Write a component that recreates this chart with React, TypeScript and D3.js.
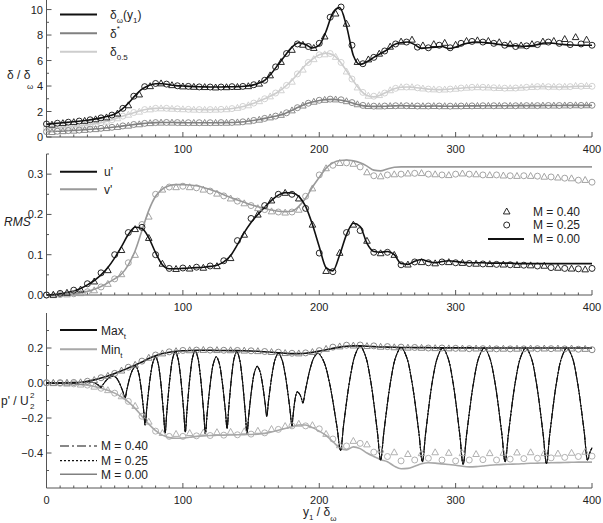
import React from "react";
import * as d3 from "d3";

const W = 603;
const H = 523;
const FONT = "'Liberation Sans', Arial, sans-serif";

// ---------- panel 1: thickness measures (lines every 5 units of y1/δω) ----------
const xLine5 = d3.range(0, 401, 5);
const deltaOmega = [
  1.0, 1.05, 1.1, 1.15, 1.2, 1.25, 1.32, 1.4, 1.5, 1.62, 1.8, 2.15, 2.65, 3.25, 3.75, 4.05, 4.18, 4.18, 4.1, 4.03,
  4.0, 3.97, 3.95, 3.93, 3.92, 3.92, 3.93, 3.94, 3.95, 3.98, 4.05, 4.2, 4.45, 5.0, 5.7, 6.4, 7.05, 7.4, 7.25, 6.98,
  7.2, 8.3, 9.75, 10.15, 8.7, 6.4, 5.7, 5.9, 6.25, 6.55, 6.85, 7.25, 7.4, 7.45, 7.25, 6.95, 7.0, 7.05, 7.1, 6.95,
  7.05, 7.25, 7.4, 7.45, 7.42, 7.38, 7.3, 7.22, 7.18, 7.15, 7.12, 7.15, 7.25, 7.38, 7.38, 7.3, 7.25, 7.22, 7.2, 7.2,
  7.2,
];
const deltaStar = [
  0.42, 0.44, 0.46, 0.49, 0.52, 0.55, 0.59, 0.63, 0.67, 0.72, 0.78, 0.85, 0.92, 0.99, 1.05, 1.1, 1.13, 1.14, 1.14, 1.13,
  1.12, 1.12, 1.12, 1.12, 1.12, 1.12, 1.13, 1.14, 1.16, 1.2, 1.27, 1.36, 1.46, 1.57, 1.68, 1.85, 2.1, 2.35, 2.58, 2.74,
  2.86, 2.93, 2.95, 2.9, 2.8, 2.65, 2.5, 2.42, 2.4, 2.4, 2.42, 2.44, 2.45, 2.44, 2.42, 2.41, 2.42, 2.43, 2.42, 2.41,
  2.42, 2.43, 2.44, 2.44, 2.45, 2.45, 2.45, 2.45, 2.45, 2.46, 2.46, 2.46, 2.46, 2.47, 2.47, 2.47, 2.48, 2.48, 2.48, 2.48,
  2.48,
];
const deltaHalf = [
  0.68, 0.7, 0.73, 0.77, 0.82, 0.88, 0.95, 1.03, 1.12, 1.25, 1.42, 1.6, 1.78, 1.95, 2.1, 2.2, 2.25, 2.26, 2.24, 2.21,
  2.19, 2.17, 2.16, 2.15, 2.15, 2.16, 2.18, 2.22, 2.3, 2.42, 2.58, 2.78, 3.0, 3.25, 3.55, 3.95, 4.45, 5.05, 5.65, 6.1,
  6.45, 6.58, 6.45, 5.95, 5.2, 4.4, 3.7, 3.25, 3.15, 3.3, 3.55, 3.78, 3.9, 3.92, 3.88, 3.82, 3.76, 3.72, 3.72, 3.75,
  3.8, 3.85, 3.88, 3.9, 3.9, 3.88, 3.85, 3.82, 3.82, 3.85, 3.88, 3.92, 3.95, 3.95, 3.93, 3.92, 3.93, 3.95, 3.97, 3.98,
  3.98,
];

// markers: circles (M = 0.25) at 0, 8, ... 400; triangles (M = 0.40) at 4, 12, ... 396
const xCirc8 = d3.range(0, 401, 8);
const xTri8 = d3.range(4, 400, 8);
const deltaOmegaCirc = [
  1.02, 1.08, 1.16, 1.25, 1.35, 1.5, 1.72, 2.25, 3.2, 3.95, 4.2, 4.15, 4.02, 3.97, 3.93, 3.92, 3.92, 3.95, 3.97, 4.1,
  4.45, 5.5, 6.55, 7.3, 7.1, 7.35, 9.4, 10.2, 7.2, 5.75, 6.25, 6.75, 7.3, 7.45, 7.05, 7.0, 7.2, 7.0, 7.35, 7.5,
  7.45, 7.35, 7.2, 7.1, 7.15, 7.25, 7.45, 7.35, 7.25, 7.3, 7.2,
];
const deltaOmegaTri = [
  0.98, 1.1, 1.18, 1.28, 1.4, 1.55, 1.85, 2.5, 3.35, 4.0, 4.22, 4.08, 3.98, 3.95, 3.93, 3.9, 3.92, 3.94, 4.0, 4.2,
  4.85, 5.9, 6.85, 7.25, 7.0, 7.9, 9.7, 8.9, 5.9, 6.1, 6.55, 7.1, 7.5, 7.65, 7.2, 7.3, 7.4, 7.25, 7.55, 7.6,
  7.55, 7.45, 7.3, 7.2, 7.3, 7.5, 7.55, 7.7, 7.85, 7.65,
];
const deltaStarCirc = [
  0.42, 0.45, 0.5, 0.54, 0.61, 0.68, 0.76, 0.87, 0.98, 1.07, 1.13, 1.14, 1.13, 1.12, 1.12, 1.12, 1.13, 1.14, 1.19, 1.3,
  1.46, 1.64, 1.9, 2.3, 2.65, 2.88, 2.97, 2.92, 2.7, 2.48, 2.42, 2.43, 2.45, 2.45, 2.43, 2.43, 2.43, 2.42, 2.43, 2.44,
  2.45, 2.45, 2.45, 2.45, 2.46, 2.46, 2.47, 2.47, 2.48, 2.48, 2.49,
];
const deltaStarTri = [
  0.4, 0.47, 0.51, 0.57, 0.63, 0.71, 0.8, 0.9, 1.01, 1.1, 1.14, 1.14, 1.12, 1.12, 1.12, 1.12, 1.13, 1.16, 1.24, 1.37,
  1.55, 1.75, 2.1, 2.48, 2.78, 2.93, 2.96, 2.82, 2.58, 2.44, 2.42, 2.44, 2.46, 2.44, 2.43, 2.44, 2.43, 2.43, 2.44, 2.45,
  2.46, 2.46, 2.46, 2.47, 2.47, 2.48, 2.48, 2.49, 2.5, 2.5,
];
const deltaHalfCirc = [
  0.68, 0.72, 0.78, 0.87, 0.98, 1.12, 1.35, 1.64, 1.92, 2.15, 2.25, 2.25, 2.21, 2.17, 2.15, 2.15, 2.17, 2.23, 2.4, 2.66,
  3.0, 3.45, 4.05, 4.95, 5.85, 6.45, 6.55, 5.85, 4.55, 3.5, 3.2, 3.45, 3.82, 3.92, 3.86, 3.76, 3.72, 3.76, 3.84, 3.9,
  3.9, 3.86, 3.83, 3.84, 3.9, 3.95, 3.94, 3.93, 3.95, 3.98, 3.98,
];
const deltaHalfTri = [
  0.66, 0.74, 0.8, 0.92, 1.03, 1.22, 1.48, 1.76, 2.0, 2.18, 2.26, 2.23, 2.19, 2.16, 2.15, 2.16, 2.19, 2.3, 2.5, 2.82,
  3.2, 3.68, 4.35, 5.3, 6.12, 6.5, 6.3, 5.15, 3.9, 3.25, 3.3, 3.68, 3.92, 3.92, 3.82, 3.75, 3.74, 3.8, 3.88, 3.92,
  3.9, 3.86, 3.84, 3.88, 3.94, 3.98, 3.96, 3.96, 4.02, 4.02,
];

// ---------- panel 2: RMS fluctuations ----------
const uRms = [
  0.0, 0.001, 0.003, 0.006, 0.01, 0.016, 0.025, 0.036, 0.05, 0.068, 0.092, 0.12, 0.15, 0.168, 0.165, 0.142, 0.105, 0.075, 0.065, 0.065,
  0.066, 0.067, 0.068, 0.069, 0.071, 0.074, 0.082, 0.098, 0.125, 0.155, 0.18, 0.2, 0.218, 0.235, 0.248, 0.254, 0.253, 0.245, 0.22, 0.175,
  0.12, 0.068, 0.06, 0.1, 0.15, 0.178, 0.17, 0.128, 0.108, 0.106, 0.108, 0.1, 0.078, 0.076, 0.084, 0.088, 0.083, 0.08, 0.083, 0.085,
  0.083, 0.081, 0.08, 0.08, 0.08, 0.079, 0.079, 0.079, 0.079, 0.078, 0.078, 0.078, 0.078, 0.078, 0.078, 0.078, 0.078, 0.078, 0.078, 0.078,
  0.078,
];
const vRms = [
  0.0, 0.0, 0.001, 0.002, 0.003, 0.005, 0.009, 0.014, 0.021, 0.03, 0.04, 0.052, 0.075, 0.11, 0.16, 0.21, 0.245, 0.263, 0.271, 0.274,
  0.274, 0.273, 0.271, 0.267, 0.262, 0.256, 0.249, 0.242, 0.236, 0.23, 0.224, 0.219, 0.215, 0.211, 0.208, 0.207, 0.208, 0.22, 0.24, 0.268,
  0.292, 0.315, 0.328, 0.334, 0.335, 0.333, 0.328, 0.32, 0.31, 0.308, 0.313, 0.317, 0.318, 0.318, 0.318, 0.318, 0.318, 0.318, 0.318, 0.318,
  0.318, 0.318, 0.318, 0.318, 0.318, 0.318, 0.318, 0.318, 0.318, 0.318, 0.318, 0.318, 0.318, 0.318, 0.318, 0.318, 0.318, 0.318, 0.318, 0.318,
  0.318,
];
const xCirc10 = d3.range(0, 401, 10);
const xTri10 = d3.range(5, 400, 10);
const uCirc = [
  0.0, 0.004, 0.012, 0.028, 0.055, 0.1, 0.155, 0.168, 0.1, 0.066, 0.067, 0.069, 0.072, 0.085, 0.135, 0.19, 0.222, 0.25, 0.25, 0.215,
  0.104, 0.058, 0.155, 0.16, 0.106, 0.106, 0.075, 0.082, 0.08, 0.082, 0.08, 0.078, 0.077, 0.076, 0.075, 0.074, 0.072, 0.068, 0.066, 0.065,
  0.066,
];
const uTri = [
  0.001, 0.006, 0.014, 0.034, 0.062, 0.112, 0.164, 0.142, 0.078, 0.065, 0.066, 0.068, 0.072, 0.092, 0.15, 0.2, 0.235, 0.254, 0.24, 0.175,
  0.06, 0.105, 0.175, 0.135, 0.104, 0.1, 0.076, 0.082, 0.079, 0.082, 0.08, 0.078, 0.077, 0.076, 0.075, 0.074, 0.073, 0.068, 0.066, 0.064,
];
const vCirc = [
  0.0, 0.001, 0.003, 0.008, 0.02, 0.04, 0.08, 0.175, 0.25, 0.268, 0.27, 0.266, 0.258, 0.246, 0.233, 0.222, 0.212, 0.206, 0.206, 0.245,
  0.298, 0.322, 0.328, 0.318, 0.296, 0.298, 0.3, 0.302, 0.3, 0.298, 0.3, 0.3, 0.298, 0.298, 0.296, 0.296, 0.295, 0.293, 0.29, 0.285,
  0.28,
];
const vTri = [
  0.0, 0.002, 0.005, 0.012, 0.028, 0.052, 0.1, 0.195, 0.262, 0.268, 0.268, 0.262, 0.252, 0.24, 0.228, 0.216, 0.208, 0.205, 0.212, 0.265,
  0.315, 0.328, 0.326, 0.305, 0.295, 0.3, 0.302, 0.303, 0.3, 0.298, 0.302, 0.3, 0.298, 0.297, 0.296, 0.296, 0.294, 0.292, 0.29, 0.286,
];

// ---------- panel 3: pressure fluctuation ----------
const pMax = [
  0.0, 0.0, 0.0, 0.001, 0.002, 0.004, 0.01, 0.018, 0.028, 0.04, 0.054, 0.07, 0.086, 0.102, 0.12, 0.14, 0.156, 0.168, 0.176, 0.181,
  0.184, 0.186, 0.187, 0.187, 0.187, 0.186, 0.186, 0.185, 0.185, 0.184, 0.183, 0.181, 0.179, 0.176, 0.173, 0.17, 0.168, 0.168, 0.17, 0.175,
  0.182, 0.19, 0.198, 0.205, 0.21, 0.212, 0.212, 0.21, 0.208, 0.206, 0.205, 0.204, 0.203, 0.203, 0.202, 0.202, 0.202, 0.201, 0.201, 0.201,
  0.201, 0.201, 0.201, 0.2, 0.2, 0.2, 0.2, 0.2, 0.2, 0.2, 0.2, 0.2, 0.2, 0.2, 0.2, 0.2, 0.2, 0.2, 0.2, 0.2,
  0.2,
];
const pMin = [
  0.0, 0.0, -0.001, -0.002, -0.004, -0.007, -0.012, -0.02, -0.03, -0.042, -0.058, -0.08, -0.108, -0.145, -0.19, -0.235, -0.272, -0.298, -0.312, -0.316,
  -0.314, -0.31, -0.305, -0.302, -0.3, -0.299, -0.298, -0.297, -0.296, -0.295, -0.294, -0.292, -0.288, -0.28, -0.27, -0.26, -0.25, -0.24, -0.24, -0.255,
  -0.275, -0.3, -0.335, -0.37, -0.382, -0.365, -0.375, -0.4, -0.42, -0.438, -0.45, -0.475, -0.49, -0.488, -0.476, -0.462, -0.456, -0.458, -0.462, -0.466,
  -0.47, -0.476, -0.479, -0.478, -0.474, -0.47, -0.467, -0.465, -0.464, -0.463, -0.461, -0.459, -0.458, -0.457, -0.456, -0.455, -0.454, -0.453, -0.452, -0.452,
  -0.452,
];
const maxCirc = [
  0.002, 0.002, 0.003, 0.01, 0.03, 0.055, 0.09, 0.125, 0.16, 0.178, 0.186, 0.188, 0.188, 0.187, 0.186, 0.184, 0.18, 0.176, 0.17, 0.172,
  0.185, 0.205, 0.216, 0.217, 0.212, 0.208, 0.205, 0.203, 0.2, 0.2, 0.198, 0.196, 0.196, 0.195, 0.195, 0.195, 0.196, 0.196, 0.195, 0.193,
  0.19,
];
const maxTri = [
  0.002, 0.003, 0.005, 0.018, 0.042, 0.072, 0.105, 0.145, 0.17, 0.183, 0.188, 0.19, 0.189, 0.188, 0.186, 0.183, 0.178, 0.172, 0.17, 0.178,
  0.196, 0.21, 0.215, 0.212, 0.208, 0.205, 0.203, 0.202, 0.2, 0.199, 0.198, 0.198, 0.197, 0.197, 0.197, 0.198, 0.198, 0.198, 0.198, 0.196,
];
const minCirc = [
  0.0, -0.002, -0.005, -0.012, -0.03, -0.058, -0.105, -0.19, -0.275, -0.305, -0.305, -0.302, -0.3, -0.298, -0.296, -0.292, -0.285, -0.265, -0.245, -0.245,
  -0.262, -0.32, -0.36, -0.345, -0.395, -0.42, -0.445, -0.44, -0.43, -0.44, -0.445, -0.44, -0.438, -0.44, -0.435, -0.432, -0.43, -0.428, -0.425, -0.42,
  -0.418,
];
const minTri = [
  0.0, -0.003, -0.008, -0.02, -0.04, -0.075, -0.13, -0.22, -0.285, -0.29, -0.285, -0.282, -0.28, -0.278, -0.275, -0.272, -0.262, -0.245, -0.232, -0.24,
  -0.29, -0.355, -0.33, -0.35, -0.38, -0.395, -0.405, -0.4, -0.395, -0.398, -0.4, -0.405, -0.4, -0.398, -0.396, -0.395, -0.4, -0.402, -0.398, -0.392,
];

// instantaneous p' along the layer: [y1/δω, p'/U2²]
const pInst: [number, number][] = [
  [0, 0], [10, 0], [20, 0.001], [28, 0.004], [33, 0.005], [36.5, -0.004], [38.8, -0.017], [40, -0.025],
  [41.5, -0.008], [44.5, 0.021], [46.75, 0.035], [49, 0.04], [51.15, 0.03], [53.3, 0.003], [56.2, -0.053], [57.6, -0.086],
  [58.9, -0.039], [61.55, 0.043], [63.5, 0.08], [65.5, 0.095], [67.2, 0.068], [68.9, -0.002], [71.2, -0.153], [72.3, -0.24],
  [73.6, -0.139], [76.15, 0.037], [78.1, 0.119], [80, 0.15], [81.75, 0.115], [83.5, 0.024], [85.8, -0.172], [87, -0.285],
  [88.25, -0.164], [90.75, 0.045], [92.6, 0.143], [94.5, 0.18], [96.3, 0.143], [98.15, 0.047], [100.6, -0.16], [101.8, -0.28],
  [103, -0.159], [105.4, 0.05], [107.2, 0.148], [109, 0.185], [110.9, 0.147], [112.75, 0.047], [115.25, -0.166], [116.5, -0.29],
  [117.8, -0.176], [120.5, 0.022], [122.5, 0.115], [124.5, 0.15], [126.5, 0.117], [128.45, 0.031], [131.1, -0.153], [132.4, -0.26],
  [133.6, -0.146], [135.95, 0.052], [137.7, 0.145], [139.5, 0.18], [141.4, 0.142], [143.25, 0.044], [145.75, -0.168], [147, -0.29],
  [148.25, -0.19], [150.75, -0.017], [152.6, 0.064], [154.5, 0.095], [156.25, 0.072], [158, 0.012], [160.3, -0.116], [161.5, -0.19],
  [162.9, -0.096], [165.75, 0.066], [167.9, 0.141], [170, 0.17], [172.5, 0.137], [175, 0.05], [178.3, -0.137], [180, -0.245],
  [180.7, -0.194], [182, -0.107], [183, -0.066], [184, -0.05], [186, -0.069], [187.3, -0.098], [188, -0.115], [189.9, -0.041],
  [193.5, 0.087], [196.25, 0.147], [199, 0.17], [203.15, 0.126], [207.3, 0.009], [212.8, -0.241], [215.6, -0.385], [218, -0.23],
  [222.8, 0.037], [226.4, 0.162], [230, 0.21], [233.75, 0.158], [237.5, 0.022], [242.5, -0.271], [245, -0.44], [247.5, -0.273],
  [252.5, 0.017], [256.25, 0.152], [260, 0.203], [263.9, 0.151], [267.8, 0.014], [273, -0.28], [275.6, -0.45], [278.1, -0.281],
  [283, 0.012], [286.8, 0.148], [290.5, 0.2], [294.25, 0.147], [298, 0.007], [303, -0.292], [305.5, -0.465], [308.1, -0.292],
  [313.25, 0.007], [317.1, 0.147], [321, 0.2], [324.8, 0.148], [328.65, 0.012], [333.75, -0.281], [336.3, -0.45], [338.85, -0.281],
  [343.9, 0.012], [347.7, 0.148], [351.5, 0.2], [355.3, 0.147], [359.05, 0.009], [364.1, -0.288], [366.6, -0.46], [369.1, -0.288],
  [374.1, 0.009], [377.85, 0.147], [381.6, 0.2], [385.4, 0.149], [389.15, 0.014], [394.2, -0.274], [396.7, -0.44], [398.3, -0.4],
  [400, -0.37],
];

// ---------- layout ----------
const x = d3.scaleLinear().domain([0, 400]).range([46.5, 592]);
const y1 = d3.scaleLinear().domain([0, 10.75]).range([137, 0]);
const y2 = d3.scaleLinear().domain([0, 0.35]).range([295, 154]);
const y3 = d3.scaleLinear().domain([-0.6, 0.4]).range([488, 313]);

const AXIS = "#555";
const TXT = "#222";
const BLACK = "#111";
const MID = "#808080";
const LIGHT = "#cdcdcd";
const VGRAY = "#9a9a9a";
const MINGRAY = "#a8a8a8";
const MAXMARK = "#7a7a7a";

function pathOf(xs: number[], ys: number[], ys2: d3.ScaleLinear<number, number>, curve = d3.curveMonotoneX) {
  const pts = xs.map((xv, i) => [xv, ys[i]] as [number, number]);
  return d3.line<[number, number]>().x((d) => x(d[0])).y((d) => ys2(d[1])).curve(curve)(pts) || "";
}

function Tri({ cx, cy, color }: { cx: number; cy: number; color: string }) {
  const s = 3.3;
  return (
    <path
      d={`M${cx},${cy - s}L${cx + s},${cy + s * 0.8}L${cx - s},${cy + s * 0.8}Z`}
      fill="none"
      stroke={color}
      strokeWidth={0.9}
    />
  );
}
function Circ({ cx, cy, color }: { cx: number; cy: number; color: string }) {
  return <circle cx={cx} cy={cy} r={3} fill="none" stroke={color} strokeWidth={0.9} />;
}

function Markers({
  xs,
  vals,
  ys,
  color,
  kind,
}: {
  xs: number[];
  vals: number[];
  ys: d3.ScaleLinear<number, number>;
  color: string;
  kind: "tri" | "circ";
}) {
  return (
    <g>
      {vals.map((v, i) =>
        kind === "tri" ? (
          <Tri key={i} cx={x(xs[i])} cy={ys(v)} color={color} />
        ) : (
          <Circ key={i} cx={x(xs[i])} cy={ys(v)} color={color} />
        )
      )}
    </g>
  );
}

function Axes({
  ys,
  majors,
  minors,
  fmt,
  showZeroX,
}: {
  ys: d3.ScaleLinear<number, number>;
  majors: number[];
  minors: number[];
  fmt: (v: number) => string;
  showZeroX: boolean;
}) {
  const [yb, yt] = ys.range();
  const x0 = x(0);
  const x1 = x(400);
  const xMaj = [0, 100, 200, 300, 400];
  const xMin = d3.range(10, 400, 10).filter((v) => v % 100 !== 0);
  return (
    <g>
      <line x1={x0} x2={x0} y1={yt} y2={yb} stroke={AXIS} strokeWidth={1} />
      <line x1={x0} x2={x1} y1={yb} y2={yb} stroke={AXIS} strokeWidth={1} />
      {xMaj.map((v) => (
        <line key={"xM" + v} x1={x(v)} x2={x(v)} y1={yb} y2={yb - 5} stroke={AXIS} />
      ))}
      {xMin.map((v) => (
        <line key={"xm" + v} x1={x(v)} x2={x(v)} y1={yb} y2={yb - 2.5} stroke={AXIS} />
      ))}
      {xMaj
        .filter((v) => showZeroX || v !== 0)
        .map((v) => (
          <text key={"xl" + v} x={x(v)} y={yb + 16} textAnchor="middle" fontSize={11} fill={TXT}>
            {v}
          </text>
        ))}
      {majors.map((v) => (
        <line key={"yM" + v} x1={x0} x2={x0 + 5} y1={ys(v)} y2={ys(v)} stroke={AXIS} />
      ))}
      {minors.map((v) => (
        <line key={"ym" + v} x1={x0} x2={x0 + 2.5} y1={ys(v)} y2={ys(v)} stroke={AXIS} />
      ))}
      {majors.map((v) => (
        <text key={"yl" + v} x={43} y={ys(v) + 4} textAnchor="end" fontSize={11} fill={TXT}>
          {fmt(v)}
        </text>
      ))}
    </g>
  );
}

const minus = (s: string) => s.replace("-", "\u2212");

export default function App() {
  const instLine = d3
    .line<[number, number]>()
    .x((d) => x(d[0]))
    .y((d) => y3(d[1]))
    .curve(d3.curveCatmullRom.alpha(0.5))(pInst) || "";

  return (
    <svg
      width={W}
      height={H}
      viewBox={`0 0 ${W} ${H}`}
      style={{ position: "absolute", left: 0, top: 0, background: "#fff" }}
      fontFamily={FONT}
    >
      <rect width={W} height={H} fill="#fff" />

      {/* ---------------- panel 1 ---------------- */}
      <Axes
        ys={y1}
        majors={[0, 2, 4, 6, 8, 10]}
        minors={[1, 3, 5, 7, 9]}
        fmt={(v) => String(v)}
        showZeroX={false}
      />
      <path d={pathOf(xLine5, deltaHalf, y1)} fill="none" stroke={LIGHT} strokeWidth={1.6} />
      <path d={pathOf(xLine5, deltaStar, y1)} fill="none" stroke={MID} strokeWidth={1.6} />
      <path d={pathOf(xLine5, deltaOmega, y1)} fill="none" stroke={BLACK} strokeWidth={1.6} />
      <Markers xs={xTri8} vals={deltaHalfTri} ys={y1} color={LIGHT} kind="tri" />
      <Markers xs={xCirc8} vals={deltaHalfCirc} ys={y1} color={LIGHT} kind="circ" />
      <Markers xs={xTri8} vals={deltaStarTri} ys={y1} color={MID} kind="tri" />
      <Markers xs={xCirc8} vals={deltaStarCirc} ys={y1} color={MID} kind="circ" />
      <Markers xs={xTri8} vals={deltaOmegaTri} ys={y1} color={BLACK} kind="tri" />
      <Markers xs={xCirc8} vals={deltaOmegaCirc} ys={y1} color={BLACK} kind="circ" />

      <text x={7} y={79} fontSize={12} fill={TXT}>δ / δ</text>
      <text x={27} y={89} fontSize={8} fill={TXT}>ω</text>

      <line x1={60} x2={97} y1={14.5} y2={14.5} stroke={BLACK} strokeWidth={2} />
      <line x1={60} x2={97} y1={33.3} y2={33.3} stroke={MID} strokeWidth={2} />
      <line x1={60} x2={97} y1={51.7} y2={51.7} stroke={LIGHT} strokeWidth={2} />
      <text x={110} y={19} fontSize={12} fill={TXT}>
        δ<tspan fontSize={8} dy={4}>ω</tspan>
        <tspan dy={-4}>(y</tspan>
        <tspan fontSize={8} dy={4}>1</tspan>
        <tspan dy={-4}>)</tspan>
      </text>
      <text x={110} y={38} fontSize={12} fill={TXT}>
        δ<tspan fontSize={8} dy={-7}>*</tspan>
      </text>
      <text x={110} y={56} fontSize={12} fill={TXT}>
        δ<tspan fontSize={8} dy={4}>0.5</tspan>
      </text>

      {/* ---------------- panel 2 ---------------- */}
      <Axes
        ys={y2}
        majors={[0, 0.1, 0.2, 0.3]}
        minors={[0.05, 0.15, 0.25, 0.35]}
        fmt={(v) => v.toFixed(1)}
        showZeroX={false}
      />
      <path d={pathOf(xLine5, vRms, y2)} fill="none" stroke={VGRAY} strokeWidth={1.6} />
      <path d={pathOf(xLine5, uRms, y2)} fill="none" stroke={BLACK} strokeWidth={1.6} />
      <Markers xs={xTri10} vals={vTri} ys={y2} color={VGRAY} kind="tri" />
      <Markers xs={xCirc10} vals={vCirc} ys={y2} color={VGRAY} kind="circ" />
      <Markers xs={xTri10} vals={uTri} ys={y2} color={BLACK} kind="tri" />
      <Markers xs={xCirc10} vals={uCirc} ys={y2} color={BLACK} kind="circ" />

      <text x={4} y={226} fontSize={12} fontStyle="italic" fill={TXT}>RMS</text>

      <line x1={60} x2={97} y1={171.7} y2={171.7} stroke={BLACK} strokeWidth={2} />
      <line x1={60} x2={97} y1={189.3} y2={189.3} stroke={VGRAY} strokeWidth={2} />
      <text x={104} y={176} fontSize={12} fill={TXT}>u'</text>
      <text x={104} y={193.5} fontSize={12} fill={TXT}>v'</text>

      <Tri cx={506.7} cy={211.3} color={BLACK} />
      <Circ cx={506.7} cy={225} color={BLACK} />
      <line x1={488} x2={524} y1={239} y2={239} stroke={BLACK} strokeWidth={2} />
      <text x={533} y={215.5} fontSize={12} fill={TXT}>M = 0.40</text>
      <text x={533} y={229.3} fontSize={12} fill={TXT}>M = 0.25</text>
      <text x={533} y={243.3} fontSize={12} fill={TXT}>M = 0.00</text>

      {/* ---------------- panel 3 ---------------- */}
      <Axes
        ys={y3}
        majors={[-0.4, -0.2, 0, 0.2]}
        minors={[-0.5, -0.3, -0.1, 0.1, 0.3]}
        fmt={(v) => minus(v.toFixed(1))}
        showZeroX={true}
      />
      <path d={pathOf(xLine5, pMin, y3)} fill="none" stroke={MINGRAY} strokeWidth={1.6} />
      <path d={pathOf(xLine5, pMax, y3)} fill="none" stroke={BLACK} strokeWidth={1.6} />
      <path d={instLine} fill="none" stroke={BLACK} strokeWidth={1.1} strokeDasharray="7,2,1.5,2" />
      <path d={instLine} fill="none" stroke={BLACK} strokeWidth={1.1} strokeDasharray="1.5,1.5" />
      <path d={instLine} fill="none" stroke={BLACK} strokeWidth={1} />
      <Markers xs={xTri10} vals={minTri} ys={y3} color={MINGRAY} kind="tri" />
      <Markers xs={xCirc10} vals={minCirc} ys={y3} color={MINGRAY} kind="circ" />
      <Markers xs={xTri10} vals={maxTri} ys={y3} color={MAXMARK} kind="tri" />
      <Markers xs={xCirc10} vals={maxCirc} ys={y3} color={MAXMARK} kind="circ" />

      <text x={1} y={405} fontSize={12} fill={TXT}>p' / U</text>
      <text x={30} y={398} fontSize={8} fill={TXT}>2</text>
      <text x={30} y={408.5} fontSize={8} fill={TXT}>2</text>

      <line x1={60} x2={97} y1={330} y2={330} stroke={BLACK} strokeWidth={2} />
      <line x1={60} x2={97} y1={349.3} y2={349.3} stroke={MINGRAY} strokeWidth={2} />
      <text x={101} y={334.5} fontSize={12} fill={TXT}>
        Max<tspan fontSize={8} dy={4}>t</tspan>
      </text>
      <text x={101} y={353.8} fontSize={12} fill={TXT}>
        Min<tspan fontSize={8} dy={4}>t</tspan>
      </text>

      <line x1={60} x2={97} y1={446} y2={446} stroke={BLACK} strokeWidth={1.2} strokeDasharray="9,3,2,3" />
      <line x1={60} x2={97} y1={460.7} y2={460.7} stroke={BLACK} strokeWidth={1.2} strokeDasharray="2,2" />
      <line x1={60} x2={97} y1={474.3} y2={474.3} stroke={MID} strokeWidth={1.6} />
      <text x={101} y={450.3} fontSize={12} fill={TXT}>M = 0.40</text>
      <text x={101} y={465} fontSize={12} fill={TXT}>M = 0.25</text>
      <text x={101} y={478.6} fontSize={12} fill={TXT}>M = 0.00</text>

      <text x={303} y={516} fontSize={12} fill={TXT}>
        y<tspan fontSize={8} dy={4}>1</tspan>
        <tspan dy={-4}> / δ</tspan>
        <tspan fontSize={8} dy={5}>ω</tspan>
      </text>
    </svg>
  );
}
